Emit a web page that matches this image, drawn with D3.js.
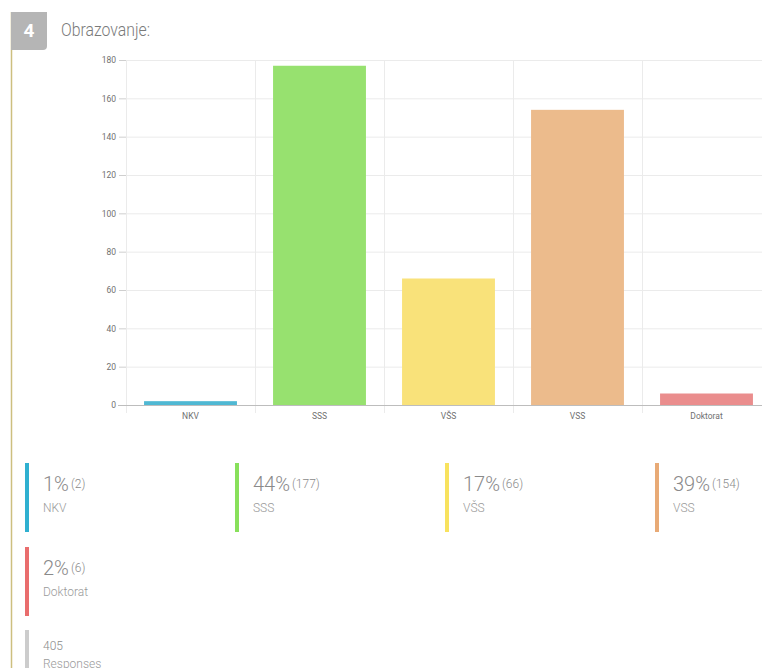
<!DOCTYPE html>
<html>
<head>
<meta charset="utf-8">
<script src="https://cdn.jsdelivr.net/npm/d3@7"></script>
<style>
  html, body { margin: 0; padding: 0; background: #fff; overflow: hidden; }
  svg { display: block; font-family: Roboto, "Open Sans", sans-serif; }
</style>
</head>
<body>
<svg id="chart" width="762" height="668"></svg>
<script>
// Question 4: education level of respondents
const categories = ["NKV", "SSS", "VŠS", "VSS", "Doktorat"];
const counts = [2, 177, 66, 154, 6];
const percents = [1, 44, 17, 39, 2];
const yTicks = [0, 20, 40, 60, 80, 100, 120, 140, 160, 180];
const barColors = ["#4fb8d3", "#97e16f", "#f9e27a", "#ecbb8c", "#ea8d8d"];
const legendColors = ["#2fb0d0", "#88e05b", "#f8e25e", "#e8aa76", "#e96d6d"];
const totalResponses = 405;
const questionNumber = "4";
const questionTitle = "Obrazovanje:";

const svg = d3.select("#chart");

// left accent rule and question badge
svg.append("line")
  .attr("x1", 11.5).attr("x2", 11.5).attr("y1", 12).attr("y2", 668)
  .attr("stroke", "#cdbf7f").attr("stroke-width", 1.5);

svg.append("path")
  .attr("d", "M11,12 H47 V46 Q47,50 43,50 H11 Z")
  .attr("fill", "#b5b5b5");
svg.append("text")
  .attr("x", 29).attr("y", 37)
  .attr("text-anchor", "middle")
  .attr("fill", "#fff").attr("font-weight", 700).attr("font-size", 19)
  .text(questionNumber);

svg.append("text")
  .attr("x", 61).attr("y", 36)
  .attr("fill", "#7a7a7a").attr("font-weight", 300).attr("font-size", 17.5)
  .attr("textLength", 89).attr("lengthAdjust", "spacingAndGlyphs")
  .text(questionTitle);

// bar chart
const plot = { left: 126, right: 771, top: 60, bottom: 405 };
const x = d3.scaleBand().domain(categories).range([plot.left, plot.right]).paddingInner(0).paddingOuter(0);
const y = d3.scaleLinear().domain([0, 180]).range([plot.bottom, plot.top]);

const g = svg.append("g");

// horizontal gridlines
g.selectAll(".hgrid").data(yTicks.filter(t => t > 0)).join("line")
  .attr("x1", plot.left).attr("x2", plot.right)
  .attr("y1", d => y(d) + 0.5).attr("y2", d => y(d) + 0.5)
  .attr("stroke", "#ebebeb");

// vertical gridlines (band edges), extending below the axis
const edges = categories.map(c => x(c)).concat([plot.right]);
g.selectAll(".vgrid").data(edges).join("line")
  .attr("x1", d => Math.round(d) + 0.5).attr("x2", d => Math.round(d) + 0.5)
  .attr("y1", plot.top).attr("y2", plot.bottom + 8)
  .attr("stroke", "#ebebeb");

// y axis
const yAxis = d3.axisLeft(y).tickValues(yTicks).tickSize(7).tickPadding(3);
const ya = g.append("g").attr("transform", `translate(${plot.left},0)`).call(yAxis);
ya.select(".domain").remove();
ya.selectAll(".tick line").attr("stroke", "#cfcfcf");
ya.selectAll(".tick text").attr("fill", "#707070").attr("font-size", 8.5).attr("font-family", "Roboto, sans-serif");

// bars
const bw = x.bandwidth() * 0.72;
g.selectAll(".bar").data(categories).join("rect")
  .attr("x", d => x(d) + (x.bandwidth() - bw) / 2)
  .attr("width", bw)
  .attr("y", (d, i) => y(counts[i]))
  .attr("height", (d, i) => y(0) - y(counts[i]))
  .attr("fill", (d, i) => barColors[i]);

// x axis
const xAxis = d3.axisBottom(x).tickSize(0).tickPadding(8);
const xa = g.append("g").attr("transform", `translate(0,${plot.bottom})`).call(xAxis);
xa.select(".domain").remove();
xa.selectAll(".tick text").attr("fill", "#707070").attr("font-size", 8.5).attr("font-family", "Roboto, sans-serif");
g.append("line")
  .attr("x1", plot.left - 8).attr("x2", plot.right)
  .attr("y1", plot.bottom + 0.5).attr("y2", plot.bottom + 0.5)
  .attr("stroke", "#bdbdbd");

// legend with percentages and counts
const colW = 210;
const legend = svg.append("g");
const items = categories.map((c, i) => ({ c, i, col: i % 4, row: Math.floor(i / 4) }));
const item = legend.selectAll(".item").data(items).join("g")
  .attr("transform", d => `translate(${25 + d.col * colW},${463 + d.row * 84})`);
item.append("rect")
  .attr("width", 4).attr("height", 69)
  .attr("fill", d => legendColors[d.i]);
const big = item.append("text").attr("x", 18).attr("y", 28).attr("fill", "#8a8a8a");
big.append("tspan").attr("font-size", 20).attr("font-weight", 300).text(d => percents[d.i] + "%");
big.append("tspan").attr("font-size", 12).attr("font-weight", 300).attr("dx", 2).attr("dy", -3).text(d => `(${counts[d.i]})`);
item.append("text").attr("x", 18).attr("y", 49)
  .attr("fill", "#9a9a9a").attr("font-size", 12).attr("font-weight", 300)
  .text(d => d.c);

// total responses
const tot = legend.append("g").attr("transform", "translate(25,630)");
tot.append("rect").attr("width", 4).attr("height", 50).attr("fill", "#cccccc");
tot.append("text").attr("x", 18).attr("y", 20).attr("fill", "#8a8a8a").attr("font-size", 12).attr("font-weight", 300).text(totalResponses);
tot.append("text").attr("x", 18).attr("y", 38).attr("fill", "#9a9a9a").attr("font-size", 12).attr("font-weight", 300).text("Responses");
</script>
</body>
</html>
